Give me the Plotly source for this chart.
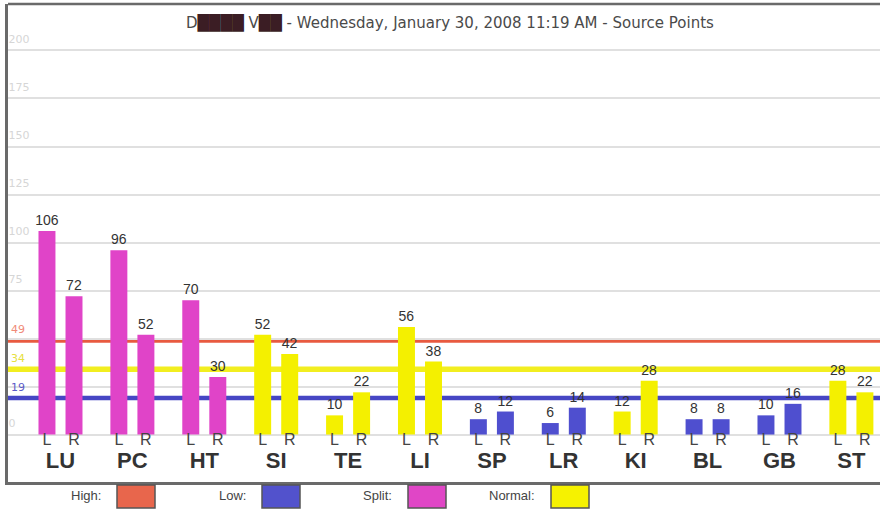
import plotly.graph_objects as go

# ---- data ----
categories = ["LU", "PC", "HT", "SI", "TE", "LI", "SP", "LR", "KI", "BL", "GB", "ST"]
left_values = [106, 96, 70, 52, 10, 56, 8, 6, 12, 8, 10, 28]
right_values = [72, 52, 30, 42, 22, 38, 12, 14, 28, 8, 16, 22]
status = ["Split", "Split", "Split", "Normal", "Normal", "Normal",
          "Low", "Low", "Normal", "Low", "Low", "Normal"]
threshold_names = ["High", "Normal", "Low"]
threshold_values = [49, 34, 19]
grid_ticks = [0, 25, 50, 75, 100, 125, 150, 175, 200]
grid_labels = ["0", "", "", "75", "100", "125", "150", "175", "200"]
title_text = ("D<span style='color:#3b1d24'>████</span> V<span style='color:#3b1d24'>██</span>"
              " - Wednesday, January 30, 2008 11:19 AM - Source Points")

# ---- styles ----
status_colors = {"Split": "#e044c8", "Normal": "#f4f000", "Low": "#4f4fcf"}
line_colors = {"High": "#e85a40", "Normal": "#f2ee20", "Low": "#4646c4"}
line_widths = {"High": 4.5, "Normal": 5.5, "Low": 4.5}
label_colors = {"High": "#f08a78", "Normal": "#e6e040", "Low": "#5a5ac8"}
legend_items = [("High:", "#e8664c"), ("Low:", "#5252cc"), ("Split:", "#e046c6"), ("Normal:", "#f6f200")]

OFF = 0.188
BW = 0.236
idx = list(range(len(categories)))
xl = [i - OFF for i in idx]
xr = [i + OFF for i in idx]
bar_cols = [status_colors[s] for s in status]
YR = [-24.7, 224.2]

fig = go.Figure()
for xs, vals in ((xl, left_values), (xr, right_values)):
    fig.add_trace(go.Bar(
        x=xs, y=vals, width=BW, marker=dict(color=bar_cols, line=dict(width=0)),
        text=[str(v) for v in vals], textposition="outside", constraintext="none",
        textfont=dict(family="Liberation Sans, Arial", size=14, color="#333333"),
        cliponaxis=False, showlegend=False, hoverinfo="skip"))

# L / R labels and category labels under the bars
fig.add_trace(go.Scatter(
    x=xl + xr, y=[-3.6] * (2 * len(idx)), mode="text",
    text=["L"] * len(idx) + ["R"] * len(idx),
    textfont=dict(family="Liberation Sans, Arial", size=16, color="#444444"),
    showlegend=False, hoverinfo="skip", cliponaxis=False))
fig.add_trace(go.Scatter(
    x=idx, y=[-14.8] * len(idx), mode="text",
    text=["<b>%s</b>" % c for c in categories],
    textfont=dict(family="Liberation Sans, Arial", size=22, color="#333333"),
    showlegend=False, hoverinfo="skip", cliponaxis=False))
# invisible anchor trace for the threshold label axis
fig.add_trace(go.Scatter(x=[0], y=[0], yaxis="y2", mode="markers",
                         marker=dict(opacity=0), showlegend=False, hoverinfo="skip"))

# threshold lines
shapes = []
for name, val in zip(threshold_names, threshold_values):
    shapes.append(dict(type="line", xref="paper", x0=0, x1=1, yref="y", y0=val, y1=val,
                       line=dict(color=line_colors[name], width=line_widths[name]), layer="between"))
# frame top
shapes.append(dict(type="line", xref="paper", yref="paper", x0=0, x1=1, y0=1, y1=1,
                   line=dict(color="#6a6a6a", width=2.5)))

W, H = 880, 513
ML, MR, MT, MB = 8, 0, 4, 31
pw, ph = W - ML - MR, H - MT - MB
def px_x(p):
    return (p - ML) / pw
def px_y(p):
    return (H - MB - p) / ph

annotations = [dict(text=title_text, xref="paper", yref="paper", x=px_x(450), y=px_y(22),
                    showarrow=False, xanchor="center", yanchor="middle",
                    font=dict(family="DejaVu Sans", size=15, color="#4a4a4a"))]
legend_x = [117, 262, 408, 551]
for (lab, col), sx in zip(legend_items, legend_x):
    annotations.append(dict(text=lab, xref="paper", yref="paper", x=px_x(sx - 14), y=px_y(496),
                            showarrow=False, xanchor="right", yanchor="middle",
                            font=dict(family="Liberation Sans Narrow, Liberation Sans", size=13,
                                      color="#444444")))
    shapes.append(dict(type="rect", xref="paper", yref="paper",
                       x0=px_x(sx), x1=px_x(sx + 38), y0=px_y(508), y1=px_y(485),
                       fillcolor=col, line=dict(color="#555555", width=1.5)))

thr_text = ["<span style='color:%s'>%d</span>" % (label_colors[n], v)
            for n, v in zip(threshold_names, threshold_values)]

fig.update_layout(
    width=W, height=H,
    margin=dict(l=ML, r=MR, t=MT, b=MB),
    paper_bgcolor="white", plot_bgcolor="white",
    barmode="overlay",
    shapes=shapes, annotations=annotations,
    xaxis=dict(range=[-0.730, 11.398], showgrid=False, zeroline=False, showticklabels=False,
               showline=True, linecolor="#6a6a6a", linewidth=2.5, ticks=""),
    yaxis=dict(range=YR, tickvals=grid_ticks, ticktext=grid_labels,
               showgrid=True, gridcolor="#e0e0e0", gridwidth=2, zeroline=False,
               ticklabelposition="inside", ticklabelshift=-11, ticks="",
               tickfont=dict(family="DejaVu Sans", size=11, color="#d6d6d6"),
               showline=True, linecolor="#6a6a6a", linewidth=2.5),
    yaxis2=dict(range=YR, overlaying="y", side="left", tickvals=threshold_values,
                ticktext=thr_text, showgrid=False, zeroline=False, showline=False,
                ticklabelposition="inside", ticklabelshift=-11, ticks="",
                tickfont=dict(family="DejaVu Sans", size=11)),
)

fig.write_html("out.html", config={"displayModeBar": False},
               post_script="document.body.style.margin='0';")
